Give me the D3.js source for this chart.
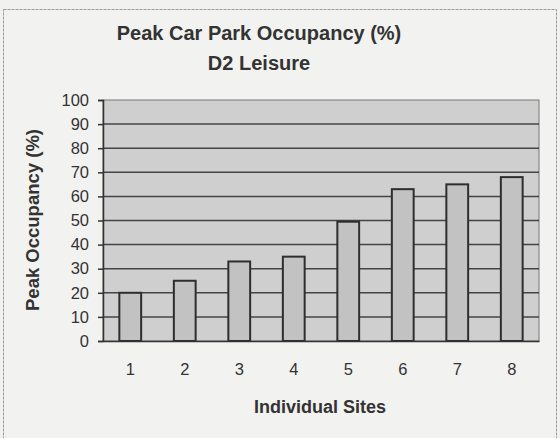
<!DOCTYPE html>
<html>
<head>
<meta charset="utf-8">
<script src="https://cdn.jsdelivr.net/npm/d3@7"></script>
<style>
  body { margin: 0; background: #f1f1ef; }
  svg { display: block; font-family: "Liberation Sans", Arial, sans-serif; }
</style>
</head>
<body>
<svg id="chart"></svg>
<script>
// chart values
var sites = ["1", "2", "3", "4", "5", "6", "7", "8"];
var occupancy = [20, 25, 33, 35, 49.5, 63, 65, 68];
var yTicks = [0, 10, 20, 30, 40, 50, 60, 70, 80, 90, 100];

var W = 560, H = 438;
var margin = {top: 100, right: 21, bottom: 97, left: 103},
    width = W - margin.left - margin.right,
    height = H - margin.top - margin.bottom;

var svg = d3.select("#chart")
    .attr("width", W)
    .attr("height", H);

// outer chart frame
svg.append("rect")
    .attr("x", 3.5).attr("y", 9.5)
    .attr("width", 553).attr("height", 440)
    .attr("fill", "#f2f2f0")
    .attr("stroke", "#9a9a9a")
    .attr("stroke-width", 1)
    .attr("stroke-dasharray", "3,1");

// titles
svg.append("text")
    .attr("x", 259).attr("y", 40)
    .attr("text-anchor", "middle")
    .style("font-size", "20px").style("font-weight", "bold").style("fill", "#333")
    .text("Peak Car Park Occupancy (%)");
svg.append("text")
    .attr("x", 259).attr("y", 70)
    .attr("text-anchor", "middle")
    .style("font-size", "20px").style("font-weight", "bold").style("fill", "#333")
    .text("D2 Leisure");

var g = svg.append("g")
    .attr("transform", "translate(" + margin.left + "," + margin.top + ")");

var x = d3.scaleBand()
    .range([0, width])
    .domain(sites)
    .paddingInner(0.6)
    .paddingOuter(0.3);

var y = d3.scaleLinear()
    .range([height, 0])
    .domain([0, 100]);

// plot background
g.append("rect")
    .attr("x", 0).attr("y", 0)
    .attr("width", width).attr("height", height)
    .attr("fill", "#cfcfcf")
    .attr("stroke", "#777")
    .attr("stroke-width", 1);

// gridlines
g.append("g")
    .selectAll("line")
    .data(yTicks.slice(1, -1))
    .enter().append("line")
    .attr("x1", 0).attr("x2", width)
    .attr("y1", d => y(d)).attr("y2", d => y(d))
    .attr("stroke", "#444")
    .attr("stroke-width", 1.5);

// bars
g.selectAll(".bar")
    .data(occupancy)
    .enter().append("rect")
    .attr("class", "bar")
    .attr("x", (d, i) => x(sites[i]))
    .attr("y", d => y(d))
    .attr("width", x.bandwidth())
    .attr("height", d => height - y(d))
    .attr("fill", "#c2c2c2")
    .attr("stroke", "#2e2e2e")
    .attr("stroke-width", 2);

// y axis
var yAxis = g.append("g")
    .call(d3.axisLeft(y).tickValues(yTicks).tickSize(5).tickPadding(9));
yAxis.select(".domain").attr("stroke", "#333").attr("stroke-width", 1.5);
yAxis.selectAll(".tick line").attr("stroke", "#333").attr("stroke-width", 1.5);
yAxis.selectAll("text")
    .style("font-size", "16.5px").style("fill", "#333")
    .style("font-family", "'Liberation Sans', Arial, sans-serif");

// x axis
var xAxis = g.append("g")
    .attr("transform", "translate(0," + height + ")")
    .call(d3.axisBottom(x).tickSize(0).tickPadding(22));
xAxis.select(".domain").attr("stroke", "#333").attr("stroke-width", 1.5);
xAxis.selectAll("text")
    .style("font-size", "16.5px").style("fill", "#333")
    .style("font-family", "'Liberation Sans', Arial, sans-serif");

// axis titles
svg.append("text")
    .attr("transform", "translate(39,220) rotate(-90)")
    .attr("text-anchor", "middle")
    .style("font-size", "18.5px").style("font-weight", "bold").style("fill", "#333")
    .text("Peak Occupancy (%)");

svg.append("text")
    .attr("x", 320).attr("y", 413)
    .attr("text-anchor", "middle")
    .style("font-size", "18px").style("font-weight", "bold").style("fill", "#333")
    .text("Individual Sites");
</script>
</body>
</html>
